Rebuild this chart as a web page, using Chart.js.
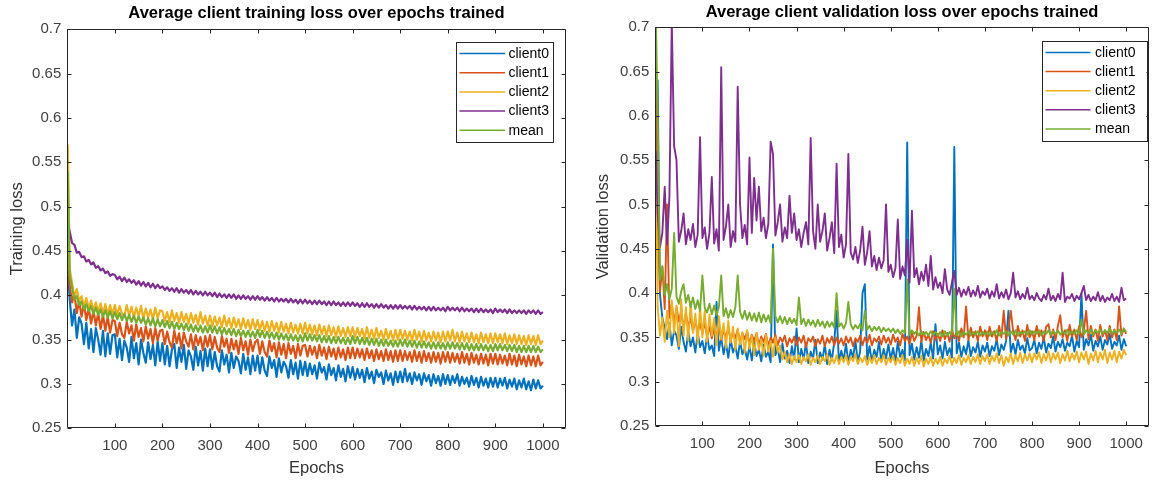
<!DOCTYPE html>
<html>
<head>
<meta charset="utf-8">
<script src="https://cdn.jsdelivr.net/npm/chart.js@4.4.1/dist/chart.umd.min.js"></script>
<style>
  html, body { margin: 0; padding: 0; background: #ffffff; }
  #wrap { position: relative; width: 1152px; height: 480px; overflow: hidden; }
  .panel { position: absolute; top: 0; }
</style>
</head>
<body>
<div id="wrap">
  <div class="panel" style="left:0px;width:580px;height:480px;"><canvas id="trainChart" width="580" height="480"></canvas></div>
  <div class="panel" style="left:580px;width:572px;height:480px;"><canvas id="valChart" width="572" height="480"></canvas></div>
</div>
<script>
// ---------- DATA ----------
const seriesLabels = ['client0', 'client1', 'client2', 'client3', 'mean'];
const xTickValues = [100, 200, 300, 400, 500, 600, 700, 800, 900, 1000];
const yTickValues = [0.25, 0.3, 0.35, 0.4, 0.45, 0.5, 0.55, 0.6, 0.65, 0.7];

const epochs = [
  1,5,10,15,20,25,30,35,40,45,50,55,60,65,70,75,80,85,90,95,
  100,105,110,115,120,125,130,135,140,145,150,155,160,165,170,175,180,185,190,195,
  200,205,210,215,220,225,230,235,240,245,250,255,260,265,270,275,280,285,290,295,
  300,305,310,315,320,325,330,335,340,345,350,355,360,365,370,375,380,385,390,395,
  400,405,410,415,420,425,430,435,440,445,450,455,460,465,470,475,480,485,490,495,
  500,505,510,515,520,525,530,535,540,545,550,555,560,565,570,575,580,585,590,595,
  600,605,610,615,620,625,630,635,640,645,650,655,660,665,670,675,680,685,690,695,
  700,705,710,715,720,725,730,735,740,745,750,755,760,765,770,775,780,785,790,795,
  800,805,810,815,820,825,830,835,840,845,850,855,860,865,870,875,880,885,890,895,
  900,905,910,915,920,925,930,935,940,945,950,955,960,965,970,975,980,985,990,995,
  1000
];

// Training loss
const trainClient0 = [
  0.430,0.396,0.366,0.384,0.352,0.375,0.368,0.345,0.369,0.340,0.362,0.336,0.363,0.350,0.333,0.360,0.331,0.357,0.334,0.355,
  0.356,0.330,0.351,0.327,0.349,0.341,0.325,0.353,0.329,0.346,0.322,0.350,0.335,0.324,0.347,0.328,0.344,0.321,0.348,0.326,
  0.346,0.322,0.343,0.320,0.339,0.345,0.318,0.341,0.325,0.344,0.317,0.338,0.331,0.316,0.342,0.321,0.337,0.315,0.340,0.320,
  0.339,0.317,0.336,0.320,0.314,0.338,0.322,0.333,0.313,0.335,0.318,0.331,0.326,0.312,0.334,0.316,0.330,0.311,0.332,0.315,
  0.332,0.312,0.330,0.315,0.309,0.331,0.318,0.327,0.308,0.329,0.313,0.325,0.320,0.307,0.327,0.311,0.324,0.306,0.326,0.310,
  0.325,0.309,0.323,0.311,0.321,0.306,0.324,0.313,0.319,0.305,0.322,0.310,0.318,0.304,0.321,0.308,0.317,0.303,0.320,0.307,
  0.319,0.305,0.317,0.307,0.316,0.302,0.318,0.306,0.314,0.301,0.316,0.308,0.313,0.300,0.315,0.304,0.312,0.299,0.314,0.302,
  0.314,0.302,0.317,0.303,0.312,0.300,0.313,0.304,0.311,0.299,0.312,0.303,0.310,0.298,0.311,0.301,0.309,0.298,0.311,0.300,
  0.310,0.299,0.309,0.301,0.311,0.298,0.308,0.300,0.307,0.297,0.309,0.299,0.307,0.296,0.308,0.298,0.306,0.296,0.307,0.297,
  0.307,0.296,0.306,0.298,0.307,0.295,0.305,0.297,0.306,0.294,0.304,0.296,0.306,0.294,0.303,0.293,0.305,0.295,0.304,0.295,
  0.298
];
const trainClient1 = [
  0.450,0.412,0.392,0.402,0.380,0.394,0.376,0.391,0.372,0.386,0.368,0.383,0.366,0.380,0.362,0.378,0.360,0.376,0.358,0.372,
  0.371,0.354,0.369,0.356,0.352,0.370,0.357,0.366,0.349,0.367,0.353,0.363,0.348,0.365,0.351,0.362,0.346,0.363,0.349,0.360,
  0.361,0.345,0.359,0.347,0.341,0.360,0.346,0.357,0.340,0.358,0.348,0.342,0.356,0.339,0.355,0.344,0.353,0.338,0.354,0.342,
  0.355,0.339,0.353,0.341,0.336,0.354,0.342,0.351,0.335,0.351,0.339,0.349,0.334,0.352,0.338,0.348,0.333,0.350,0.337,0.347,
  0.350,0.334,0.348,0.336,0.331,0.349,0.337,0.346,0.330,0.347,0.333,0.345,0.329,0.346,0.334,0.343,0.329,0.345,0.332,0.343,
  0.344,0.331,0.343,0.333,0.342,0.329,0.344,0.332,0.341,0.328,0.342,0.331,0.340,0.328,0.341,0.330,0.339,0.327,0.341,0.329,
  0.341,0.329,0.340,0.330,0.339,0.327,0.340,0.329,0.338,0.326,0.339,0.328,0.337,0.326,0.339,0.327,0.337,0.325,0.338,0.326,
  0.338,0.326,0.337,0.327,0.336,0.325,0.338,0.326,0.336,0.324,0.337,0.326,0.335,0.324,0.336,0.325,0.335,0.323,0.336,0.325,
  0.336,0.324,0.335,0.325,0.334,0.323,0.336,0.324,0.334,0.322,0.335,0.324,0.333,0.322,0.334,0.323,0.333,0.321,0.334,0.323,
  0.334,0.322,0.333,0.323,0.332,0.321,0.334,0.322,0.332,0.320,0.333,0.322,0.331,0.320,0.332,0.321,0.331,0.320,0.332,0.321,
  0.325
];
const trainClient2 = [
  0.570,0.430,0.414,0.398,0.407,0.394,0.399,0.388,0.397,0.385,0.394,0.383,0.392,0.381,0.391,0.380,0.390,0.379,0.389,0.378,
  0.389,0.378,0.388,0.379,0.376,0.389,0.377,0.387,0.375,0.386,0.376,0.388,0.374,0.385,0.375,0.384,0.373,0.386,0.374,0.383,
  0.382,0.371,0.381,0.370,0.383,0.371,0.380,0.369,0.381,0.370,0.379,0.368,0.380,0.369,0.378,0.367,0.381,0.368,0.377,0.366,
  0.377,0.365,0.376,0.366,0.375,0.364,0.377,0.365,0.374,0.363,0.375,0.364,0.373,0.362,0.374,0.363,0.372,0.361,0.373,0.362,
  0.372,0.361,0.371,0.360,0.370,0.359,0.371,0.360,0.369,0.358,0.370,0.359,0.368,0.357,0.369,0.358,0.367,0.357,0.368,0.357,
  0.369,0.357,0.367,0.356,0.366,0.355,0.367,0.356,0.365,0.354,0.366,0.355,0.364,0.353,0.365,0.354,0.363,0.353,0.364,0.354,
  0.364,0.353,0.363,0.354,0.362,0.351,0.364,0.352,0.361,0.351,0.363,0.352,0.360,0.350,0.362,0.351,0.360,0.349,0.361,0.350,
  0.361,0.351,0.360,0.350,0.359,0.349,0.361,0.350,0.359,0.348,0.360,0.349,0.358,0.348,0.359,0.349,0.358,0.347,0.359,0.348,
  0.359,0.349,0.361,0.348,0.358,0.347,0.359,0.348,0.357,0.347,0.358,0.347,0.356,0.346,0.358,0.347,0.356,0.346,0.357,0.346,
  0.357,0.347,0.356,0.346,0.357,0.345,0.355,0.346,0.356,0.345,0.355,0.345,0.354,0.344,0.355,0.345,0.354,0.344,0.355,0.345,
  0.349
];
const trainClient3 = [
  0.482,0.472,0.459,0.457,0.448,0.449,0.443,0.444,0.438,0.440,0.435,0.437,0.431,0.433,0.428,0.430,0.425,0.427,0.422,0.424,
  0.423,0.418,0.421,0.416,0.420,0.415,0.418,0.414,0.417,0.412,0.416,0.411,0.415,0.410,0.414,0.409,0.413,0.408,0.412,0.408,
  0.410,0.406,0.409,0.405,0.408,0.404,0.408,0.403,0.407,0.403,0.406,0.402,0.406,0.401,0.405,0.401,0.404,0.400,0.404,0.400,
  0.403,0.399,0.403,0.398,0.402,0.398,0.401,0.397,0.401,0.397,0.401,0.396,0.400,0.396,0.400,0.396,0.399,0.395,0.399,0.395,
  0.399,0.395,0.398,0.394,0.398,0.394,0.397,0.393,0.397,0.393,0.396,0.393,0.396,0.392,0.396,0.392,0.395,0.391,0.395,0.391,
  0.395,0.391,0.394,0.390,0.394,0.390,0.394,0.390,0.393,0.389,0.393,0.389,0.393,0.389,0.392,0.388,0.392,0.388,0.392,0.388,
  0.392,0.388,0.391,0.387,0.391,0.387,0.391,0.387,0.390,0.386,0.390,0.386,0.390,0.386,0.389,0.385,0.389,0.385,0.389,0.385,
  0.389,0.385,0.388,0.385,0.388,0.384,0.388,0.384,0.387,0.384,0.387,0.383,0.387,0.383,0.387,0.383,0.386,0.383,0.386,0.382,
  0.387,0.383,0.386,0.383,0.386,0.382,0.386,0.382,0.385,0.382,0.385,0.381,0.385,0.381,0.385,0.381,0.384,0.381,0.384,0.380,
  0.385,0.381,0.384,0.381,0.384,0.380,0.384,0.380,0.383,0.380,0.383,0.380,0.383,0.379,0.383,0.380,0.383,0.379,0.383,0.379,
  0.381
];
const trainMean = [
  0.540,0.423,0.409,0.395,0.399,0.389,0.393,0.384,0.390,0.382,0.388,0.379,0.386,0.378,0.384,0.376,0.383,0.375,0.382,0.374,
  0.381,0.373,0.380,0.372,0.379,0.371,0.378,0.370,0.377,0.369,0.376,0.369,0.375,0.367,0.374,0.366,0.374,0.365,0.373,0.365,
  0.372,0.364,0.371,0.363,0.370,0.362,0.369,0.362,0.368,0.361,0.368,0.360,0.367,0.359,0.366,0.359,0.366,0.358,0.365,0.358,
  0.366,0.358,0.365,0.357,0.364,0.356,0.363,0.356,0.362,0.355,0.362,0.354,0.361,0.354,0.360,0.353,0.360,0.353,0.359,0.352,
  0.361,0.353,0.360,0.352,0.359,0.352,0.358,0.351,0.358,0.350,0.357,0.350,0.356,0.349,0.356,0.349,0.355,0.348,0.355,0.348,
  0.357,0.349,0.356,0.349,0.355,0.348,0.355,0.347,0.354,0.347,0.354,0.346,0.353,0.346,0.353,0.346,0.352,0.345,0.352,0.345,
  0.354,0.346,0.353,0.345,0.352,0.345,0.352,0.344,0.351,0.344,0.351,0.343,0.350,0.343,0.350,0.343,0.349,0.342,0.349,0.342,
  0.350,0.343,0.350,0.342,0.349,0.342,0.349,0.341,0.348,0.341,0.348,0.341,0.347,0.340,0.347,0.340,0.347,0.340,0.346,0.339,
  0.347,0.340,0.347,0.340,0.346,0.339,0.346,0.339,0.346,0.338,0.345,0.338,0.345,0.338,0.345,0.338,0.344,0.337,0.344,0.337,
  0.345,0.338,0.345,0.338,0.344,0.337,0.344,0.337,0.344,0.336,0.343,0.336,0.343,0.336,0.343,0.336,0.343,0.336,0.342,0.336,
  0.339
];

// Validation loss
const valClient0 = [
  0.500,0.640,0.398,0.372,0.361,0.348,0.366,0.341,0.358,0.352,0.337,0.362,0.345,0.334,0.357,0.340,0.350,0.333,0.355,0.339,
  0.346,0.332,0.352,0.336,0.341,0.329,0.390,0.335,0.350,0.331,0.344,0.327,0.348,0.333,0.340,0.326,0.346,0.331,0.338,0.325,
  0.340,0.324,0.345,0.329,0.336,0.323,0.342,0.328,0.334,0.322,0.455,0.330,0.338,0.322,0.343,0.326,0.335,0.321,0.340,0.325,
  0.360,0.322,0.337,0.325,0.344,0.321,0.334,0.326,0.347,0.321,0.333,0.325,0.342,0.320,0.336,0.324,0.345,0.380,0.322,0.335,
  0.324,0.343,0.321,0.336,0.327,0.346,0.322,0.334,0.400,0.410,0.325,0.340,0.322,0.336,0.328,0.345,0.323,0.337,0.326,0.342,
  0.325,0.338,0.323,0.345,0.328,0.336,0.324,0.570,0.330,0.343,0.325,0.339,0.327,0.346,0.324,0.337,0.329,0.344,0.326,0.365,
  0.331,0.341,0.326,0.345,0.330,0.338,0.327,0.565,0.332,0.344,0.328,0.340,0.331,0.347,0.329,0.339,0.333,0.345,0.328,0.341,
  0.334,0.344,0.329,0.340,0.335,0.348,0.330,0.342,0.336,0.346,0.380,0.333,0.343,0.331,0.347,0.336,0.341,0.332,0.349,0.335,
  0.338,0.347,0.332,0.344,0.337,0.350,0.333,0.343,0.338,0.351,0.334,0.345,0.339,0.348,0.335,0.344,0.340,0.352,0.334,0.346,
  0.339,0.400,0.336,0.348,0.341,0.353,0.335,0.346,0.340,0.351,0.336,0.347,0.342,0.354,0.337,0.345,0.341,0.352,0.336,0.348,
  0.340
];
const valClient1 = [
  0.690,0.470,0.402,0.430,0.382,0.500,0.372,0.388,0.366,0.384,0.368,0.379,0.360,0.377,0.362,0.372,0.357,0.370,0.356,0.366,
  0.354,0.367,0.351,0.362,0.349,0.360,0.352,0.364,0.347,0.358,0.350,0.361,0.346,0.356,0.349,0.359,0.344,0.355,0.348,0.357,
  0.343,0.353,0.346,0.355,0.341,0.351,0.345,0.354,0.340,0.350,0.344,0.353,0.341,0.350,0.345,0.352,0.340,0.349,0.344,0.351,
  0.341,0.350,0.344,0.352,0.339,0.349,0.345,0.351,0.340,0.348,0.343,0.352,0.340,0.349,0.344,0.351,0.341,0.350,0.343,0.349,
  0.341,0.351,0.344,0.350,0.340,0.349,0.345,0.352,0.341,0.350,0.344,0.353,0.341,0.349,0.345,0.351,0.342,0.352,0.344,0.350,
  0.342,0.353,0.345,0.350,0.341,0.354,0.346,0.351,0.343,0.355,0.346,0.352,0.384,0.345,0.356,0.347,0.353,0.344,0.357,0.347,
  0.354,0.346,0.358,0.348,0.355,0.345,0.359,0.349,0.356,0.346,0.360,0.350,0.385,0.347,0.361,0.350,0.357,0.346,0.362,0.351,
  0.358,0.347,0.362,0.351,0.357,0.346,0.363,0.350,0.380,0.348,0.361,0.380,0.357,0.347,0.363,0.351,0.358,0.346,0.364,0.350,
  0.357,0.347,0.363,0.351,0.358,0.346,0.362,0.365,0.350,0.359,0.347,0.363,0.375,0.350,0.358,0.346,0.364,0.351,0.359,0.347,
  0.363,0.350,0.358,0.380,0.348,0.363,0.351,0.359,0.346,0.364,0.351,0.358,0.347,0.363,0.350,0.359,0.347,0.385,0.352,0.360,
  0.354
];
const valClient2 = [
  0.550,0.385,0.352,0.372,0.345,0.380,0.350,0.392,0.355,0.386,0.340,0.393,0.352,0.384,0.346,0.390,0.355,0.377,0.343,0.385,
  0.350,0.380,0.345,0.376,0.352,0.372,0.341,0.374,0.348,0.366,0.338,0.369,0.344,0.362,0.336,0.360,0.342,0.356,0.333,0.358,
  0.337,0.352,0.330,0.355,0.336,0.348,0.329,0.353,0.334,0.346,0.328,0.350,0.333,0.341,0.325,0.334,0.322,0.331,0.320,0.329,
  0.322,0.330,0.320,0.328,0.323,0.331,0.319,0.327,0.322,0.330,0.320,0.328,0.323,0.331,0.319,0.327,0.321,0.330,0.320,0.328,
  0.322,0.330,0.319,0.328,0.323,0.331,0.320,0.327,0.322,0.329,0.319,0.328,0.321,0.330,0.320,0.327,0.322,0.330,0.319,0.327,
  0.322,0.329,0.319,0.327,0.321,0.330,0.318,0.326,0.320,0.328,0.318,0.327,0.320,0.329,0.317,0.326,0.320,0.328,0.318,0.326,
  0.320,0.328,0.318,0.326,0.321,0.329,0.319,0.327,0.321,0.330,0.319,0.327,0.322,0.330,0.320,0.328,0.322,0.331,0.320,0.329,
  0.323,0.331,0.320,0.329,0.323,0.332,0.321,0.330,0.318,0.328,0.322,0.332,0.320,0.330,0.323,0.333,0.321,0.331,0.324,0.332,
  0.322,0.332,0.325,0.333,0.321,0.331,0.324,0.334,0.322,0.332,0.325,0.333,0.321,0.331,0.324,0.335,0.323,0.332,0.325,0.334,
  0.322,0.333,0.325,0.334,0.320,0.332,0.324,0.335,0.322,0.333,0.325,0.336,0.321,0.333,0.325,0.335,0.322,0.334,0.326,0.336,
  0.330
];
const valClient3 = [
  0.560,0.490,0.452,0.468,0.520,0.455,0.510,0.705,0.566,0.550,0.458,0.470,0.490,0.455,0.472,0.460,0.478,0.452,0.466,0.576,
  0.462,0.474,0.450,0.468,0.531,0.456,0.472,0.448,0.655,0.460,0.475,0.500,0.452,0.470,0.458,0.633,0.500,0.462,0.477,0.455,
  0.553,0.468,0.530,0.482,0.520,0.470,0.485,0.462,0.478,0.571,0.557,0.465,0.480,0.500,0.458,0.474,0.462,0.510,0.468,0.490,
  0.460,0.472,0.452,0.468,0.480,0.455,0.575,0.470,0.450,0.500,0.458,0.470,0.490,0.448,0.462,0.480,0.445,0.546,0.452,0.466,
  0.440,0.455,0.557,0.446,0.438,0.452,0.434,0.448,0.475,0.432,0.446,0.470,0.430,0.442,0.426,0.440,0.428,0.437,0.500,0.424,
  0.432,0.418,0.428,0.483,0.416,0.430,0.420,0.460,0.412,0.493,0.418,0.428,0.410,0.424,0.414,0.432,0.408,0.442,0.404,0.418,
  0.406,0.412,0.400,0.427,0.404,0.398,0.412,0.425,0.398,0.406,0.396,0.404,0.398,0.407,0.396,0.403,0.397,0.408,0.395,0.402,
  0.398,0.405,0.394,0.402,0.396,0.410,0.394,0.401,0.395,0.404,0.393,0.400,0.423,0.395,0.402,0.393,0.399,0.394,0.406,0.393,
  0.397,0.392,0.400,0.394,0.391,0.398,0.393,0.405,0.392,0.397,0.391,0.399,0.393,0.423,0.390,0.396,0.394,0.399,0.391,0.397,
  0.393,0.400,0.408,0.392,0.398,0.391,0.396,0.392,0.401,0.391,0.397,0.390,0.395,0.392,0.399,0.391,0.396,0.390,0.406,0.392,
  0.394
];
const valMean = [
  0.720,0.600,0.415,0.430,0.398,0.410,0.393,0.405,0.468,0.396,0.388,0.402,0.410,0.389,0.398,0.384,0.395,0.382,0.392,0.380,
  0.420,0.383,0.378,0.388,0.376,0.386,0.375,0.384,0.420,0.374,0.383,0.372,0.381,0.373,0.384,0.420,0.379,0.371,0.380,0.370,
  0.378,0.369,0.377,0.368,0.378,0.367,0.376,0.368,0.375,0.366,0.450,0.374,0.367,0.374,0.366,0.373,0.365,0.372,0.366,0.371,
  0.364,0.395,0.365,0.371,0.363,0.370,0.364,0.369,0.362,0.370,0.363,0.368,0.361,0.368,0.362,0.367,0.361,0.400,0.362,0.366,
  0.360,0.366,0.390,0.365,0.359,0.364,0.360,0.365,0.358,0.380,0.359,0.363,0.357,0.362,0.358,0.362,0.356,0.361,0.357,0.360,
  0.356,0.360,0.355,0.359,0.354,0.358,0.355,0.415,0.353,0.358,0.354,0.357,0.352,0.357,0.353,0.356,0.352,0.357,0.353,0.356,
  0.352,0.356,0.351,0.357,0.352,0.356,0.353,0.405,0.352,0.357,0.351,0.356,0.353,0.357,0.352,0.356,0.353,0.357,0.352,0.356,
  0.353,0.357,0.352,0.356,0.353,0.358,0.352,0.356,0.354,0.357,0.352,0.357,0.353,0.358,0.352,0.356,0.354,0.357,0.353,0.358,
  0.353,0.357,0.354,0.358,0.352,0.357,0.354,0.358,0.353,0.357,0.354,0.358,0.353,0.357,0.354,0.359,0.353,0.357,0.354,0.358,
  0.354,0.370,0.353,0.358,0.355,0.359,0.353,0.358,0.355,0.359,0.354,0.358,0.355,0.360,0.354,0.358,0.355,0.359,0.354,0.360,
  0.356
];

// ---------- STYLE ----------
const seriesColors = ['#0072BD', '#D95319', '#EDB120', '#7E2F8E', '#77AC30'];
const FONT = '"Liberation Sans", Arial, Helvetica, sans-serif';

const matlabBox = {
  id: 'matlabBox',
  afterDraw(chart, args, opts) {
    const ctx = chart.ctx;
    const a = chart.chartArea;
    const xs = chart.scales.x, ys = chart.scales.y;
    ctx.save();
    ctx.strokeStyle = '#262626';
    ctx.lineWidth = 1;
    const L = Math.round(a.left) + 0.5, R = Math.round(a.right) - 0.5;
    const T = Math.round(a.top) + 0.5, B = Math.round(a.bottom) - 0.5;
    ctx.beginPath();
    ctx.rect(L, T, R - L, B - T);
    const tl = 4;
    xs.ticks.forEach(t => {
      const px = Math.round(xs.getPixelForValue(t.value)) + 0.5;
      ctx.moveTo(px, B); ctx.lineTo(px, B - tl);
      ctx.moveTo(px, T); ctx.lineTo(px, T + tl);
    });
    ys.ticks.forEach(t => {
      const py = Math.round(ys.getPixelForValue(t.value)) + 0.5;
      ctx.moveTo(L, py); ctx.lineTo(L + tl, py);
      ctx.moveTo(R, py); ctx.lineTo(R - tl, py);
    });
    ctx.stroke();

    // legend box
    const lg = opts.legend;
    if (lg) {
      ctx.fillStyle = '#ffffff';
      ctx.fillRect(lg.left, lg.top, lg.right - lg.left, lg.bottom - lg.top);
      ctx.strokeStyle = '#262626';
      ctx.lineWidth = 1;
      ctx.strokeRect(Math.round(lg.left) + 0.5, Math.round(lg.top) + 0.5,
                     Math.round(lg.right - lg.left), Math.round(lg.bottom - lg.top));
      ctx.font = '14px ' + FONT;
      ctx.textBaseline = 'middle';
      ctx.textAlign = 'left';
      chart.data.datasets.forEach((ds, i) => {
        const y = lg.firstY + i * lg.step;
        ctx.strokeStyle = ds.borderColor;
        ctx.lineWidth = 1.5;
        ctx.beginPath();
        ctx.moveTo(lg.lineX0, y);
        ctx.lineTo(lg.lineX1, y);
        ctx.stroke();
        ctx.fillStyle = '#000000';
        ctx.fillText(ds.label, lg.textX, y + 0.5);
      });
    }
    ctx.restore();
  }
};

function makeDatasets(seriesList, lineWidth) {
  return seriesList.map((vals, i) => ({
    label: seriesLabels[i],
    data: epochs.map((e, k) => ({ x: e, y: vals[k] })),
    borderColor: seriesColors[i],
    backgroundColor: seriesColors[i],
    borderWidth: lineWidth,
    borderJoinStyle: 'round',
    pointRadius: 0,
    tension: 0,
    fill: false,
    order: seriesLabels.length - i
  }));
}

function makeChart(canvasId, cfg) {
  return new Chart(document.getElementById(canvasId), {
    type: 'line',
    data: { datasets: makeDatasets(cfg.series, cfg.lineWidth) },
    plugins: [matlabBox],
    options: {
      responsive: false,
      animation: false,
      devicePixelRatio: 1,
      layout: { padding: { left: 0, right: cfg.padRight, top: 0, bottom: 0 } },
      plugins: {
        legend: { display: false },
        tooltip: { enabled: false },
        title: {
          display: true,
          text: cfg.title,
          fullSize: false,
          color: '#000000',
          font: { family: FONT, size: 16.5, weight: 'bold' },
          padding: { top: cfg.titleTop, bottom: cfg.titleBottom }
        },
        matlabBox: { legend: cfg.legend }
      },
      scales: {
        x: {
          type: 'linear',
          min: 0,
          max: 1048,
          afterBuildTicks: s => { s.ticks = xTickValues.map(v => ({ value: v })); },
          afterFit: s => { s.height = cfg.xHeight; },
          grid: { display: false, drawTicks: false },
          border: { display: false },
          ticks: {
            autoSkip: false,
            maxRotation: 0,
            padding: 9,
            color: '#404040',
            font: { family: FONT, size: 15 },
            callback: v => String(v)
          },
          title: {
            display: true,
            text: 'Epochs',
            color: '#333333',
            font: { family: FONT, size: 16.5 },
            padding: { top: 0, bottom: 2 }
          }
        },
        y: {
          type: 'linear',
          min: 0.25,
          max: 0.7,
          afterBuildTicks: s => { s.ticks = yTickValues.map(v => ({ value: v })); },
          afterFit: s => { s.width = cfg.yWidth; },
          grid: { display: false, drawTicks: false },
          border: { display: false },
          ticks: {
            autoSkip: false,
            padding: 6,
            color: '#404040',
            font: { family: FONT, size: 15 },
            callback: v => String(+Number(v).toFixed(2))
          },
          title: {
            display: true,
            text: cfg.yTitle,
            color: '#333333',
            font: { family: FONT, size: 16.5 },
            padding: { top: cfg.yTitlePad, bottom: 0 }
          }
        }
      }
    }
  });
}

makeChart('trainChart', {
  series: [trainClient0, trainClient1, trainClient2, trainClient3, trainMean],
  title: 'Average client training loss over epochs trained',
  yTitle: 'Training loss',
  lineWidth: 2.2,
  padRight: 14.3,
  yWidth: 67.3,
  xHeight: 51.7,
  titleTop: 3.5,
  titleBottom: 6,
  yTitlePad: 8,
  legend: { left: 455.5, top: 42, right: 552.5, bottom: 141.5, lineX0: 459.5, lineX1: 505, textX: 508.5, firstY: 53.5, step: 19.2 }
});

makeChart('valChart', {
  series: [valClient0, valClient1, valClient2, valClient3, valMean],
  title: 'Average client validation loss over epochs trained',
  yTitle: 'Validation loss',
  lineWidth: 1.9,
  padRight: 1,
  yWidth: 75.3,
  xHeight: 54,
  titleTop: 2.5,
  titleBottom: 5,
  yTitlePad: 14,
  legend: { left: 462, top: 40.5, right: 566.5, bottom: 140.5, lineX0: 465.5, lineX1: 510.5, textX: 515, firstY: 52.5, step: 19.1 }
});
</script>
</body>
</html>
